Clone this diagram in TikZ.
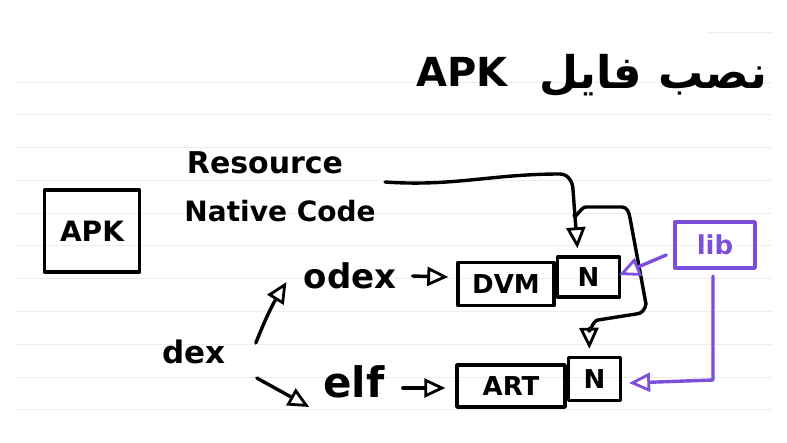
\documentclass[tikz,border=0pt]{standalone}
\usepackage{fontspec}
\setmainfont{DejaVu Sans}
\newfontfamily\arabicfont[Script=Arabic]{DejaVu Sans}
\TeXXeTstate=1
\usetikzlibrary{arrows.meta}
\definecolor{pur}{HTML}{7B4FDB}
\definecolor{rule}{HTML}{EDEDED}
\tikzset{
  ink/.style={line width=3.4pt, line cap=round, line join=round},
  arr/.style={ink, -{Triangle[open, length=21pt, width=19pt, line width=2.8pt]}},
  boxn/.style={draw, ink, inner sep=0pt, font=\bfseries\fontsize{26}{30}\selectfont},
  lbl/.style={inner sep=0pt, font=\bfseries\fontsize{30}{34}\selectfont},
}
\begin{document}
\begin{tikzpicture}[x=1pt, y=-1pt]
\useasboundingbox (0,0) rectangle (787,442);
% ruled lines
\foreach \yy in {82,114,147,180,213,245,278,311,344,377,409}
  \draw[rule, line width=0.8pt] (16,\yy) -- (772,\yy);
\draw[rule, line width=0.8pt] (708,32) -- (772,32);
% title
\node[inner sep=0pt, font=\bfseries\fontsize{40}{46}\selectfont] (tapk) at (462,72) {APK};
\node[inner sep=0pt, font=\arabicfont\bfseries\fontsize{45}{52}\selectfont] (tfa) at (653,76) {\beginR نصب فایل\endR};
% APK box
\node[boxn, minimum width=95pt, minimum height=82pt, font=\bfseries\fontsize{28}{32}\selectfont] (apk) at (92,231) {APK};
% labels
\node[lbl] (res) at (265,163) {Resource};
\node[lbl, font=\bfseries\fontsize{28}{32}\selectfont] (ncode) at (280,211) {Native Code};
\node[lbl, font=\bfseries\fontsize{34}{38}\selectfont] (odex) at (350,276) {odex};
\node[lbl, font=\bfseries\fontsize{31}{36}\selectfont] (dex) at (194,352) {dex};
\node[lbl, font=\bfseries\fontsize{42}{46}\selectfont] (elf) at (354,382) {elf};
% boxes
\node[boxn, minimum width=96pt, minimum height=43pt] (dvm) at (506,284) {DVM};
\node[boxn, minimum width=62pt, minimum height=40pt, anchor=west] (n1) at (dvm.east |- 0,277) {N};
\node[boxn, minimum width=108pt, minimum height=42pt] (art) at (511,386) {ART};
\node[boxn, minimum width=52pt, minimum height=43pt, anchor=west] (n2) at (art.east |- 0,379) {N};
\node[boxn, draw=pur, text=pur, minimum width=80pt, minimum height=46pt] (lib) at (715,245) {lib};
% coordinates
\coordinate (c1) at (385,182);
\coordinate (c2) at (574,215);
\coordinate (c3) at (713,276);
% connectors
\draw[arr] (c1) to[out=-4,in=180] (560,174) to[out=0,in=90] (573,190) -- ([xshift=-11pt,yshift=7pt]n1.north);
\draw[arr] (c2) to[out=-80,in=180] (586,207) -- (622,207) to[out=0,in=100] (630,218) -- (646,304) to[out=-100,in=0] (636,314) -- (598,320) to[out=180,in=-90] (589,330) -- ([xshift=-5pt,yshift=7pt]n2.north);
\draw[arr] ([xshift=16pt]odex.east) -- ([xshift=-8pt,yshift=7pt]dvm.west);
\draw[arr] ([xshift=18pt,yshift=-6pt]elf.east) -- ([xshift=-10pt,yshift=-2pt]art.west);
\draw[arr] ([xshift=30pt,yshift=9pt]dex.east) to[bend left=5] ([xshift=-17pt,yshift=-6pt]odex.west);
\draw[arr] ([xshift=31pt,yshift=-26pt]dex.east) -- ([xshift=-14pt,yshift=-25pt]elf.west);
\draw[arr, pur] ([xshift=-7pt,yshift=-10pt]lib.west) -- ([xshift=-2pt,yshift=2pt]n1.east);
\draw[arr, pur] (c3) -- (713,380) -- ([xshift=7pt,yshift=-4pt]n2.east);
\end{tikzpicture}
\end{document}
